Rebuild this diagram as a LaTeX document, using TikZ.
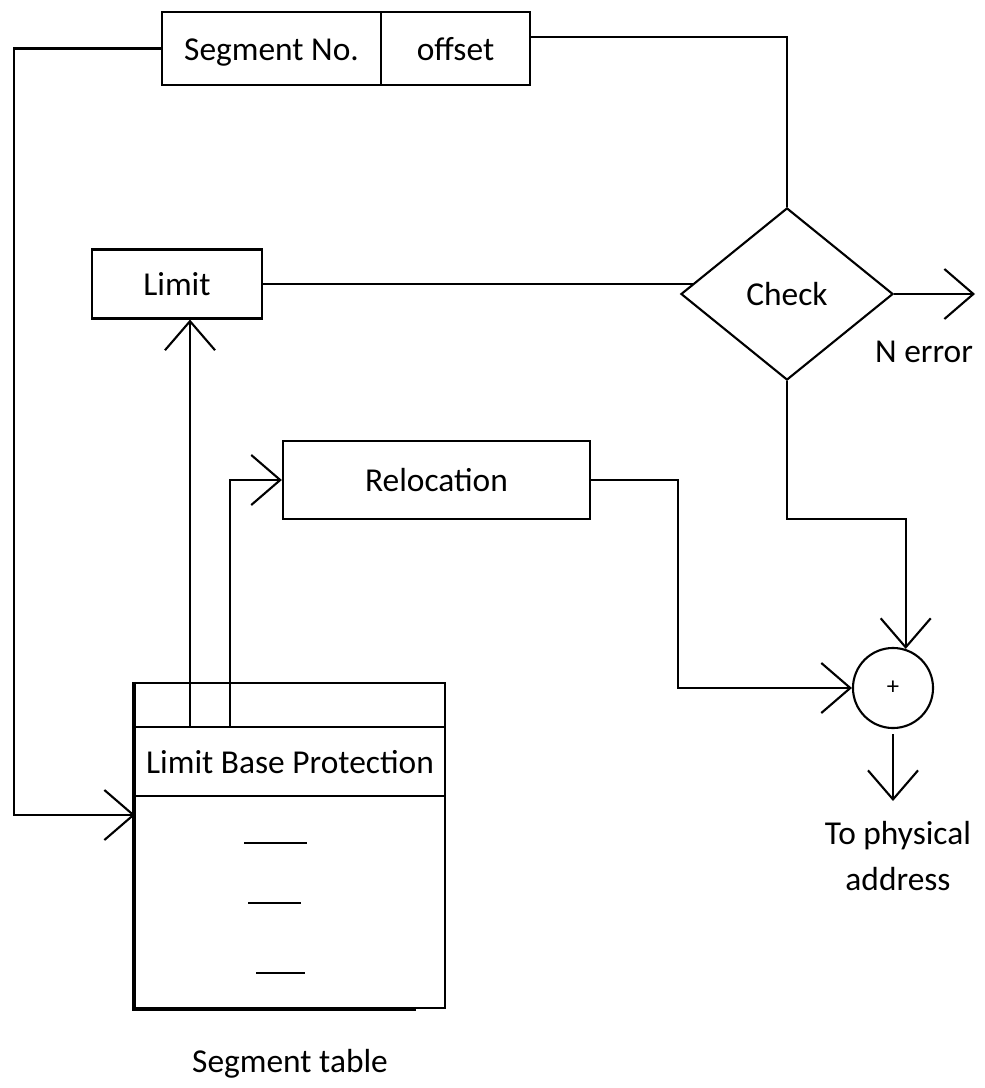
\documentclass[tikz,border=0pt]{standalone}
\usepackage{fontspec}
\setmainfont{Carlito}
\usetikzlibrary{arrows.meta}
\usetikzlibrary{shapes.geometric}
\usetikzlibrary{calc}

\begin{document}
\begin{tikzpicture}
[box/.style={rectangle,draw,line width=0.6pt,inner sep=0pt,text height=1.4ex,text depth=0ex}
,link/.style={draw,line width=0.6pt}
,arr/.style={link,arrows={-Straight Barb[length=2.9mm,width=5mm]}}
,lbl/.style={inner sep=0pt}
,x=0.01cm,y=-0.01cm
,font=\fontsize{9.5}{13.3}\selectfont]
\useasboundingbox (0,0) rectangle (985,1088);
% logical address
\node[box,minimum width=2.19cm,minimum height=0.73cm] (segno) at (271.5,48.5) {Segment No.};
\node[box,minimum width=1.49cm,minimum height=0.73cm] (offs) at (455.5,48.5) {offset};
% check and registers
\node[diamond,draw,line width=0.6pt,inner sep=0pt,minimum width=2.12cm,minimum height=1.72cm] (check) at (787,294) {Check};
\node[box,minimum width=1.70cm,minimum height=0.69cm] (limit) at (177,284) {Limit};
\node[box,minimum width=3.07cm,minimum height=0.78cm] (reloc) at (436.5,480) {Relocation};
\node[circle,draw,line width=0.6pt,inner sep=0pt,minimum size=0.80cm,font=\fontsize{7}{8}\selectfont] (adder) at (893,688) {+};
% segment table
\node[box,minimum width=3.10cm,minimum height=3.25cm] (tbl) at (290,845.5) {};
\node[box,minimum width=3.10cm,minimum height=0.69cm] (row) at (290,761.5) {Limit Base Protection};
\draw[line width=1.1pt] (tbl.north west) |- ($(tbl.south east)+(-30,0)$);
\draw[link] (244,843) -- (307,843);
\draw[link] (248,903) -- (301,903);
\draw[link] (256,973) -- (305,973);
% labels
\node[lbl] (nerr) at (924,352) {N error};
\node[lbl,align=center] (phys) at (898,856) {To physical\\address};
\node[lbl] (tbllbl) at (290,1064) {Segment table};
\coordinate (tin) at (135,815);
\coordinate (oout) at (530,37);
\coordinate (lim0) at (190,727);
\coordinate (rel0) at (230,727);
\coordinate (errout) at (975,294);
\coordinate (physin) at (893,801);
% connectors
\draw[arr] (segno.west) -- ++(-147,0) |- (tin);
\draw[link] (oout) -| (check.north);
\draw[link] (limit.east) -- (limit.east -| {$(check.west)!0.12!(check.north)$});
\draw[arr] (lim0) -- (lim0 |- limit.south);
\draw[arr] (rel0) |- (reloc.west);
\draw[arr] (reloc.east) -- ++(87,0) |- (adder.west);
\draw[arr] (check.south) -- ++(0,138) -| (adder.72);
\draw[arr] (check.east) -- (errout);
\draw[arr,shorten <=0.05cm] (adder.south) -- (physin);
\end{tikzpicture}
\end{document}
